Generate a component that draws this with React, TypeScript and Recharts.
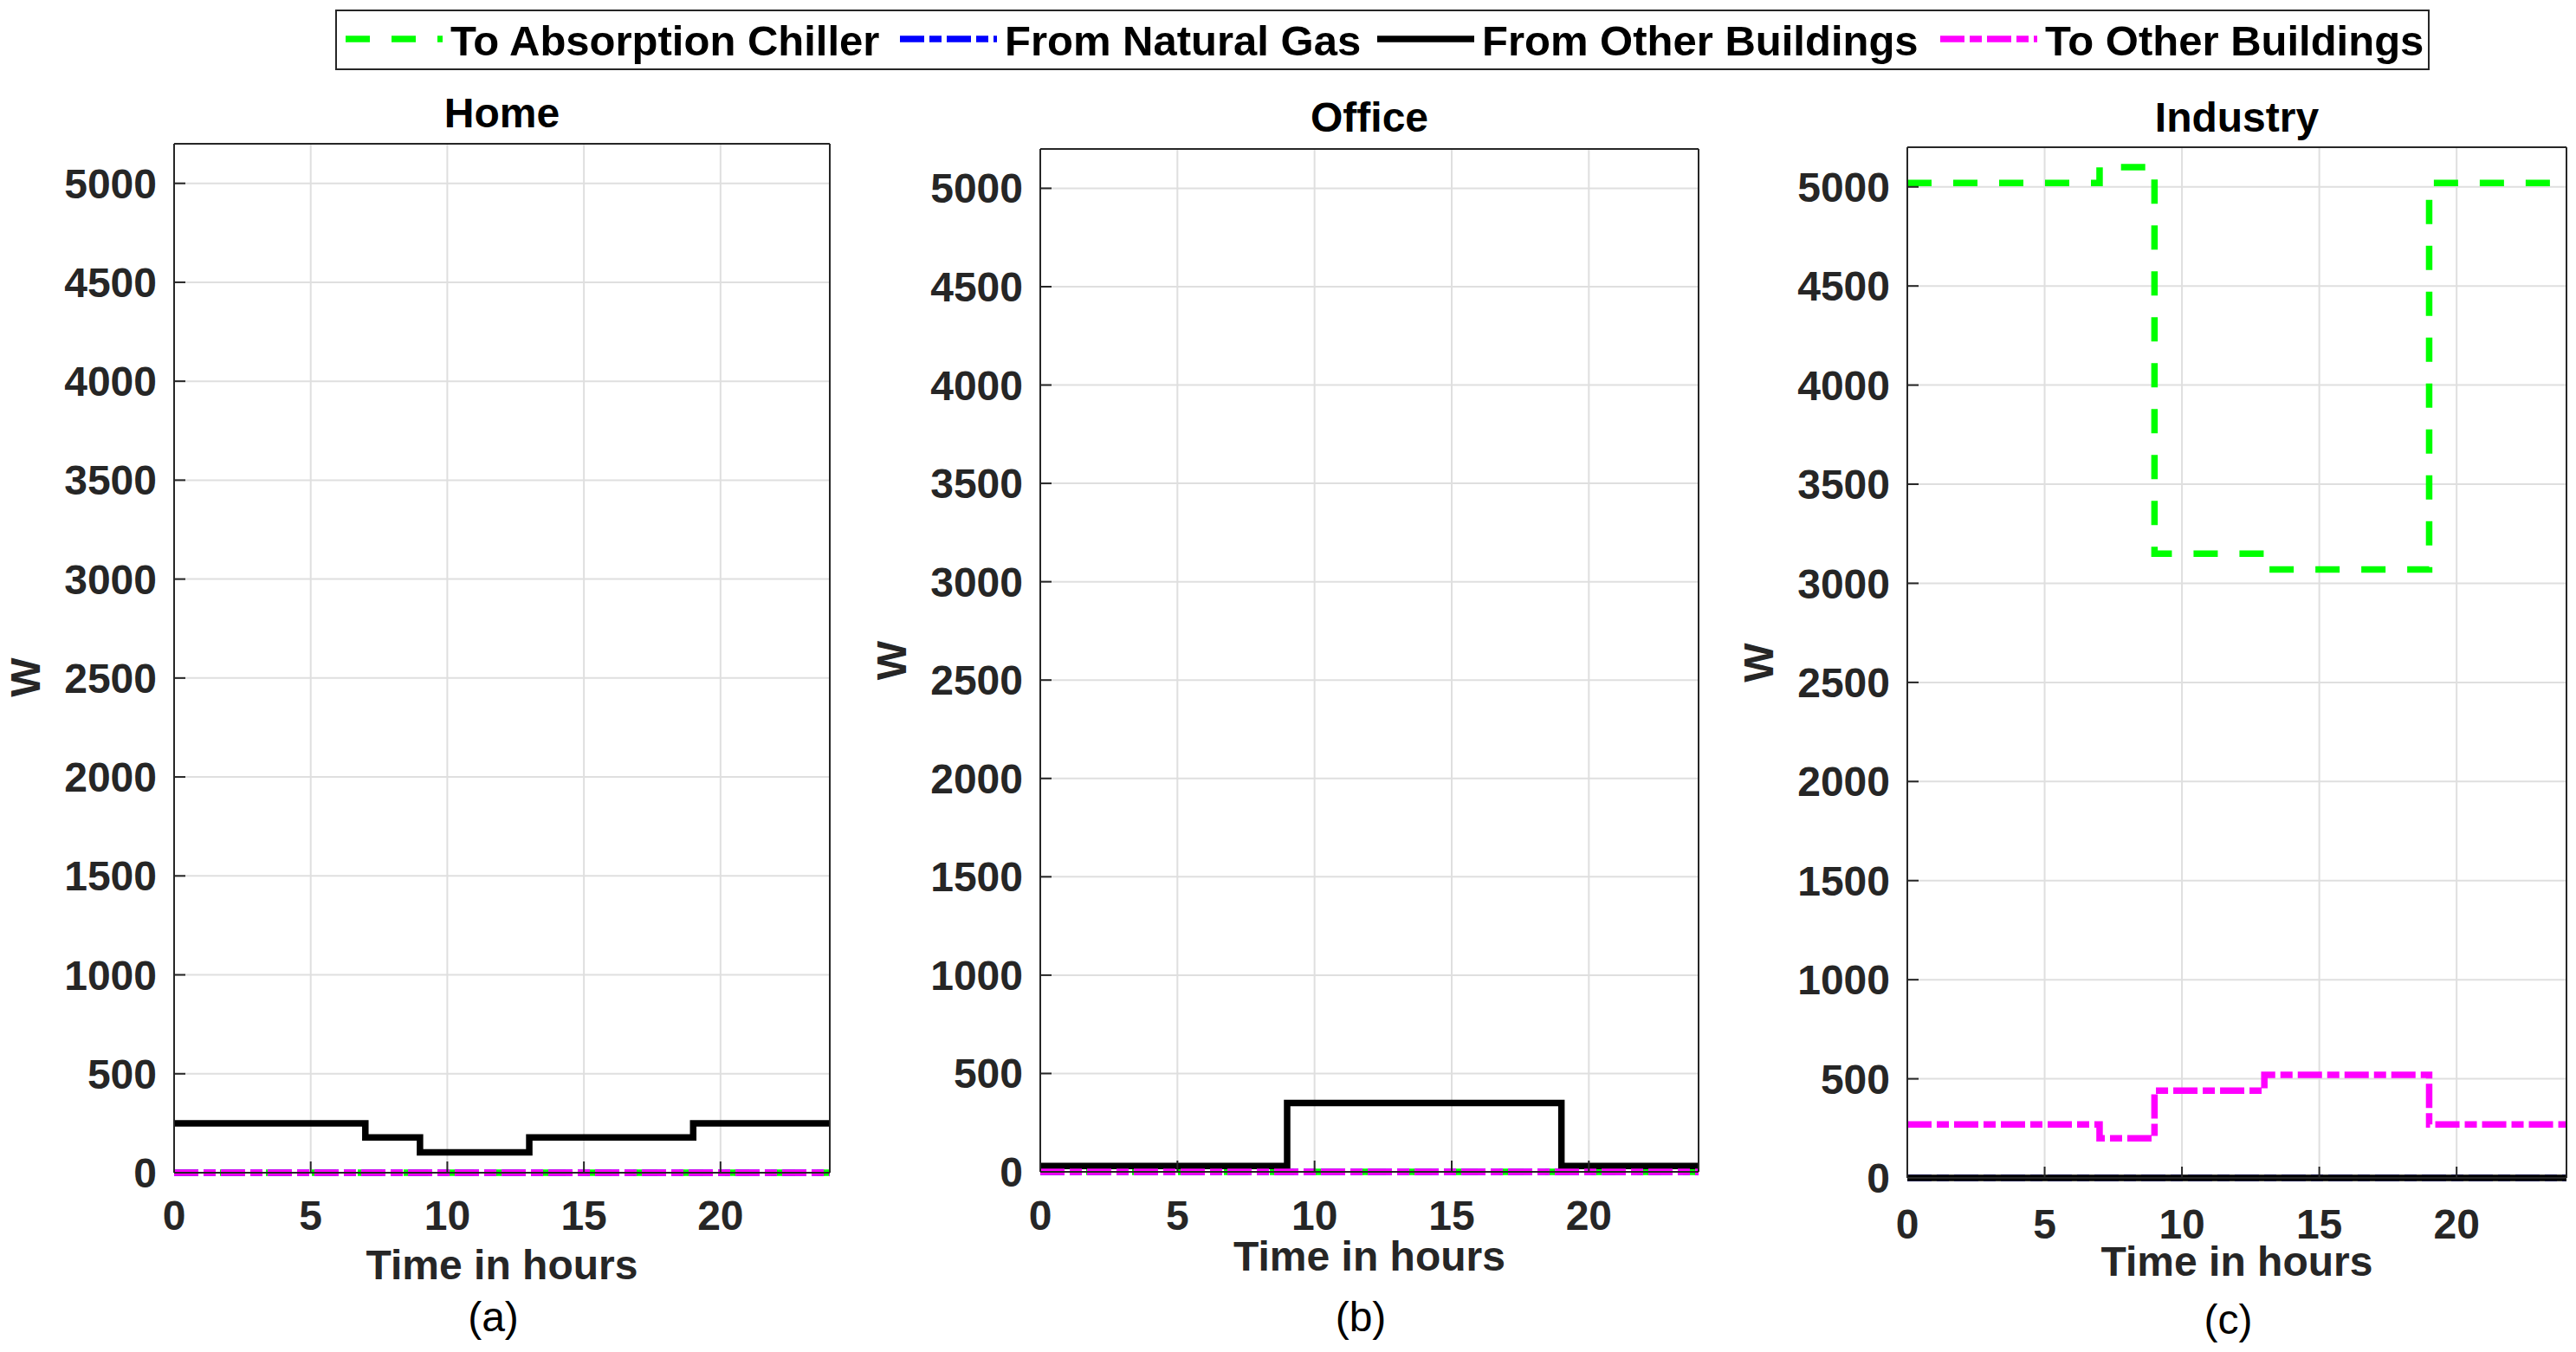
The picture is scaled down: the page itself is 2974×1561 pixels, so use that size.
import React from 'react'
import { LineChart, Line, XAxis, YAxis, CartesianGrid } from 'recharts'

// breakpoints of the hourly profiles (value holds until next breakpoint)
const hours = [0, 7, 9, 13, 19, 24]
const xTicks = [0, 5, 10, 15, 20]
const yTicks = [0, 500, 1000, 1500, 2000, 2500, 3000, 3500, 4000, 4500, 5000]

const homeToChiller = [0, 0, 0, 0, 0, 0]
const homeFromGas = [0, 0, 0, 0, 0, 0]
const homeFromOthers = [250, 178, 103, 178, 250, 250]
const homeToOthers = [0, 0, 0, 0, 0, 0]

const officeToChiller = [0, 0, 0, 0, 0, 0]
const officeFromGas = [0, 0, 0, 0, 0, 0]
const officeFromOthers = [30, 30, 350, 350, 30, 30]
const officeToOthers = [0, 0, 0, 0, 0, 0]

const industryToChiller = [5020, 5100, 3150, 3070, 5020, 5020]
const industryFromGas = [0, 0, 0, 0, 0, 0]
const industryFromOthers = [0, 0, 0, 0, 0, 0]
const industryToOthers = [270, 200, 440, 520, 270, 270]

const SERIES = [
  { key: 'toChiller', name: 'To Absorption Chiller', color: '#00ff00', dash: '28 25' },
  { key: 'fromGas', name: 'From Natural Gas', color: '#0000ff', dash: '28 6 14 6' },
  { key: 'fromOthers', name: 'From Other Buildings', color: '#000000', dash: undefined },
  { key: 'toOthers', name: 'To Other Buildings', color: '#ff00ff', dash: '28 6 14 6' },
]

function buildRows(a: number[], b: number[], c: number[], d: number[]) {
  return hours.map((h, i) => ({
    hour: h,
    toChiller: a[i],
    fromGas: b[i],
    fromOthers: c[i],
    toOthers: d[i],
  }))
}

const FONT = '"Liberation Sans", Arial, Helvetica, sans-serif'
const AXIS = '#262626'
const YW = 200
const TOP = 100
const BOTTOM = 200

interface PanelProps {
  title: string
  caption: string
  rows: any[]
  plotLeft: number
  plotRight: number
  plotTop: number
  plotBottom: number
  titleGap: number
  tickBase: number
  xLabelBase: number
  capBase: number
  wShift: number
}

function Panel(p: PanelProps) {
  const plotW = p.plotRight - p.plotLeft
  const plotH = p.plotBottom - p.plotTop
  const chartW = YW + plotW + 1
  const chartH = TOP + 1 + plotH + BOTTOM

  const titleLabel = (props: any) => {
    const { x, y, width, height } = props.viewBox
    return (
      <text x={x + width / 2} y={y + height - p.titleGap} textAnchor="middle" fontSize={48} fontWeight="bold" fill="#000">
        {p.title}
      </text>
    )
  }
  const bottomLabel = (props: any) => {
    const { x, y, width } = props.viewBox
    return (
      <g>
        <text x={x + width / 2} y={y + p.xLabelBase} textAnchor="middle" fontSize={48} fontWeight="bold" fill={AXIS}>
          Time in hours
        </text>
        <text x={x + width / 2 - 10} y={y + p.capBase} textAnchor="middle" fontSize={48} fill="#000">
          {p.caption}
        </text>
      </g>
    )
  }
  const yLabel = (props: any) => {
    const { x, width } = props.viewBox
    const cx = x + width - 172 + 17
    const cy = TOP + 1 + plotH / 2 + p.wShift
    return (
      <text x={cx} y={cy} transform={`rotate(-90 ${cx} ${cy})`} textAnchor="middle" fontSize={48} fontWeight="bold" fill={AXIS}>
        W
      </text>
    )
  }

  return (
    <div style={{ position: 'absolute', left: p.plotLeft - YW, top: p.plotTop - TOP - 1 }}>
      <LineChart width={chartW} height={chartH} data={p.rows} margin={{ top: TOP, right: 0, bottom: 0, left: 0 }}>
        <CartesianGrid stroke="#dfdfdf" strokeWidth={2} />
        <XAxis
          xAxisId="top"
          orientation="top"
          type="number"
          dataKey="hour"
          domain={[0, 24]}
          ticks={xTicks}
          height={1}
          tick={false}
          tickSize={-13}
          stroke={AXIS}
          strokeWidth={2}
          label={titleLabel}
        />
        <XAxis
          type="number"
          dataKey="hour"
          domain={[0, 24]}
          ticks={xTicks}
          interval={0}
          height={BOTTOM}
          tickSize={-13}
          tickMargin={p.tickBase - 34 + 13}
          tick={{ fontSize: 48, fontWeight: 'bold', fill: AXIS }}
          stroke={AXIS}
          strokeWidth={2}
          label={bottomLabel}
        />
        <YAxis
          type="number"
          domain={[0, 5200]}
          ticks={yTicks}
          interval={0}
          width={YW}
          tickSize={-13}
          tickMargin={33}
          tick={{ fontSize: 48, fontWeight: 'bold', fill: AXIS }}
          stroke={AXIS}
          strokeWidth={2}
          label={yLabel}
        />
        <YAxis
          yAxisId="right"
          orientation="right"
          type="number"
          dataKey="toChiller"
          domain={[0, 5200]}
          ticks={yTicks}
          width={1}
          tick={false}
          tickSize={-13}
          stroke={AXIS}
          strokeWidth={2}
        />
        {SERIES.map((s) => (
          <Line
            key={s.key}
            type="stepAfter"
            dataKey={s.key}
            name={s.name}
            stroke={s.color}
            strokeWidth={7.5}
            strokeDasharray={s.dash}
            dot={false}
            activeDot={false}
            isAnimationActive={false}
          />
        ))}
      </LineChart>
    </div>
  )
}

// sample start positions inside the legend box
const legendX = [12, 652, 1203, 1853]

function LegendBox() {
  return (
    <svg width={2418} height={70} style={{ position: 'absolute', left: 387, top: 11 }}>
      <rect x={1} y={1} width={2416} height={68} fill="#fff" stroke={AXIS} strokeWidth={2} />
      {SERIES.map((s, i) => (
        <g key={s.key}>
          <line x1={legendX[i]} x2={legendX[i] + 112} y1={34} y2={34} stroke={s.color} strokeWidth={7.5} strokeDasharray={s.dash} />
          <text x={legendX[i] + 121} y={53} fontSize={49} fontWeight="bold" fill="#000">
            {s.name}
          </text>
        </g>
      ))}
    </svg>
  )
}

export default function App() {
  return (
    <div
      style={{
        position: 'absolute',
        left: 0,
        top: 0,
        width: 2974,
        height: 1561,
        overflow: 'hidden',
        background: '#fff',
        fontFamily: FONT,
      }}
    >
      <Panel
        title="Home"
        caption="(a)"
        rows={buildRows(homeToChiller, homeFromGas, homeFromOthers, homeToOthers)}
        plotLeft={201}
        plotRight={958}
        plotTop={166}
        plotBottom={1354}
        titleGap={19}
        tickBase={66}
        xLabelBase={123}
        capBase={183}
        wShift={22}
      />
      <Panel
        title="Office"
        caption="(b)"
        rows={buildRows(officeToChiller, officeFromGas, officeFromOthers, officeToOthers)}
        plotLeft={1201}
        plotRight={1961}
        plotTop={172}
        plotBottom={1353}
        titleGap={20}
        tickBase={67}
        xLabelBase={114}
        capBase={184}
        wShift={0}
      />
      <Panel
        title="Industry"
        caption="(c)"
        rows={buildRows(industryToChiller, industryFromGas, industryFromOthers, industryToOthers)}
        plotLeft={2202}
        plotRight={2963}
        plotTop={170}
        plotBottom={1360}
        titleGap={18}
        tickBase={70}
        xLabelBase={113}
        capBase={180}
        wShift={0}
      />
      <LegendBox />
    </div>
  )
}
